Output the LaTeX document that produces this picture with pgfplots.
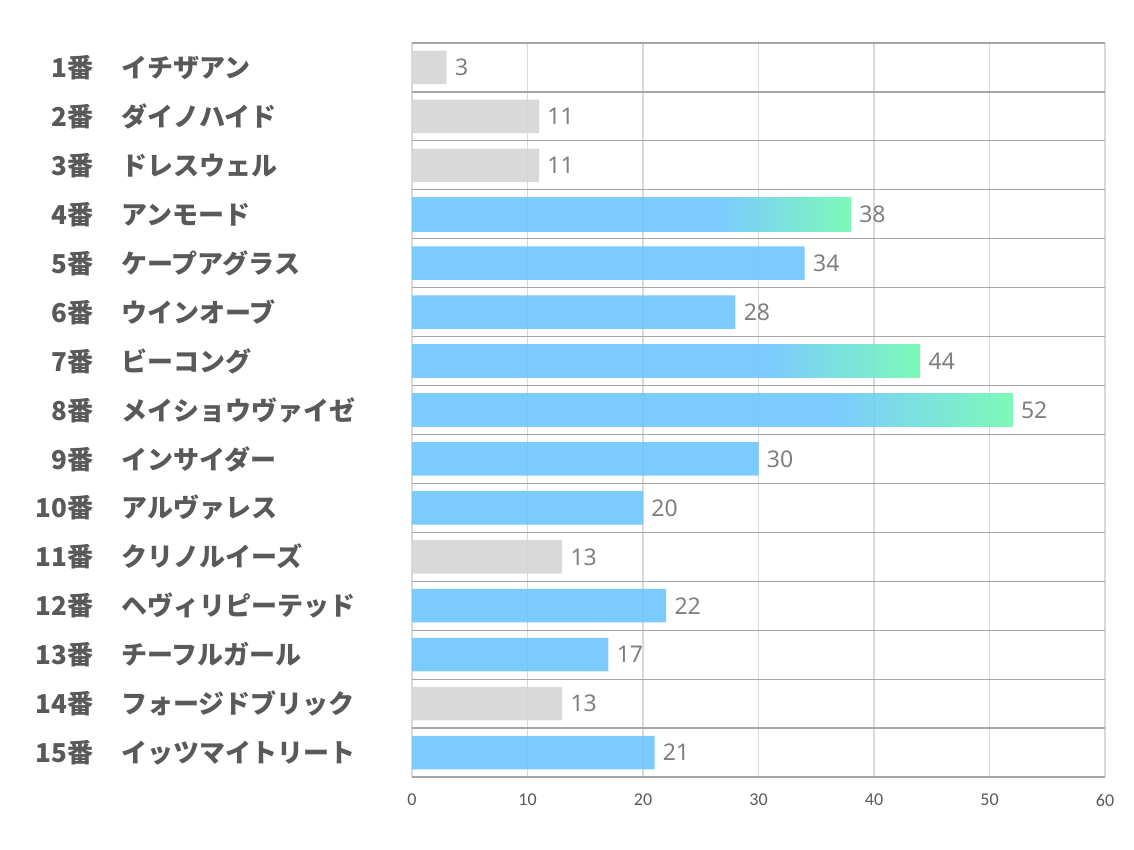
\documentclass[border=0pt]{standalone}
\usepackage{fontspec}
\setmainfont{Noto Sans}
\newfontfamily\jpfont{Noto Sans CJK JP}
\newfontfamily\tickfont{Carlito}
\usepackage{pgfplots}
\pgfplotsset{compat=1.18}

\definecolor{barblue}{RGB}{110,197,255}
\definecolor{bargreen}{RGB}{110,249,177}
\definecolor{bargray}{RGB}{213,213,213}
\definecolor{sepgray}{RGB}{166,166,166}
\definecolor{gridgray}{RGB}{217,217,217}
\definecolor{labgray}{RGB}{89,89,89}
\definecolor{numgray}{RGB}{127,127,127}

% blue up to 70% of the bar, then fading to green
\pgfdeclarehorizontalshading{barfade}{100bp}{color(0bp)=(barblue); color(60bp)=(barblue); color(75bp)=(bargreen); color(100bp)=(bargreen)}

\newcommand{\lab}[2]{\makebox[40pt][r]{#1}\hspace{14pt}#2}

\begin{document}
\begin{tikzpicture}
\useasboundingbox (0,0) rectangle (567pt,425pt);
\begin{axis}[
    at={(206pt,36.5pt)}, anchor=south west,
    scale only axis,
    width=346.5pt, height=367pt,
    xmin=0, xmax=60,
    ymin=0.5, ymax=15.5,
    y dir=reverse,
    xtick={0,10,...,60},
    ytick={1,...,15},
    yticklabels={
        {\lab{1番}{イチザアン}},
        {\lab{2番}{ダイノハイド}},
        {\lab{3番}{ドレスウェル}},
        {\lab{4番}{アンモード}},
        {\lab{5番}{ケープアグラス}},
        {\lab{6番}{ウインオーブ}},
        {\lab{7番}{ビーコング}},
        {\lab{8番}{メイショウヴァイゼ}},
        {\lab{9番}{インサイダー}},
        {\lab{10番}{アルヴァレス}},
        {\lab{11番}{クリノルイーズ}},
        {\lab{12番}{ヘヴィリピーテッド}},
        {\lab{13番}{チーフルガール}},
        {\lab{14番}{フォージドブリック}},
        {\lab{15番}{イッツマイトリート}}
    },
    % row separators
    extra y ticks={0.5,1.5,2.5,3.5,4.5,5.5,6.5,7.5,8.5,9.5,10.5,11.5,12.5,13.5,14.5,15.5},
    extra y tick labels={},
    extra y tick style={ymajorgrids=true, major grid style={draw=sepgray, line width=0.6pt}},
    xmajorgrids,
    major grid style={draw=gridgray, line width=0.6pt},
    axis line style={draw=none},
    tick style={draw=none},
    major tick length=0pt,
    /pgf/number format/assume math mode=true,
    xticklabel style={font=\tickfont\fontsize{9pt}{9pt}\selectfont, text=labgray, yshift=-5pt},
    yticklabel style={font=\jpfont\bfseries\fontsize{13pt}{13pt}\selectfont, text=labgray,
        anchor=west, inner sep=0pt, xshift=-199.5pt},
    xbar, bar width=16.75pt, bar shift=0pt,
    nodes near coords,
    nodes near coords style={font=\fontsize{11.5pt}{11.5pt}\selectfont, text=numgray,
        anchor=west, inner sep=0pt, xshift=4pt, text opacity=1},
]
\addplot[fill=bargray, draw=none, fill opacity=0.9] coordinates {
    (3,1) (11,2) (11,3) (13,11) (13,14)
};
\addplot[fill=barblue, draw=none, fill opacity=0.9] coordinates {
    (34,5) (28,6) (30,9) (20,10) (22,12) (17,13) (21,15)
};
% each faded bar on its own, so that the shading fits that bar
\addplot[shading=barfade, shading angle=0, draw=none, fill opacity=0.9] coordinates {(38,4)};
\addplot[shading=barfade, shading angle=0, draw=none, fill opacity=0.9] coordinates {(44,7)};
\addplot[shading=barfade, shading angle=0, draw=none, fill opacity=0.9] coordinates {(52,8)};
\end{axis}
\end{tikzpicture}
\end{document}
